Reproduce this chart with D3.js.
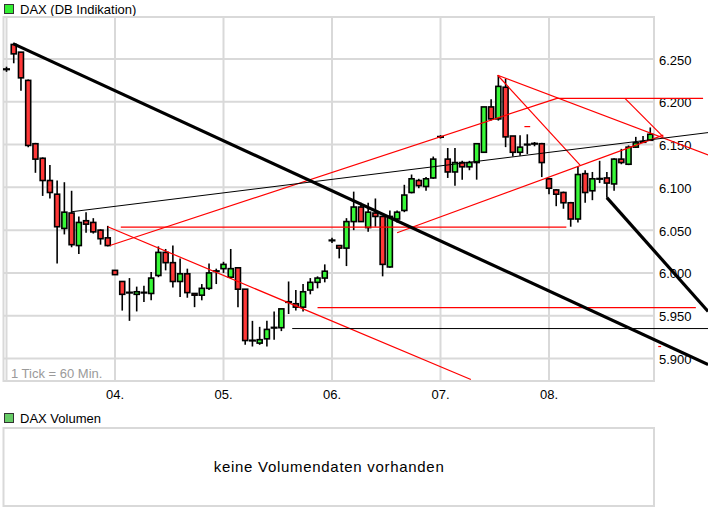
<!DOCTYPE html>
<html><head><meta charset="utf-8">
<script src="https://cdn.jsdelivr.net/npm/d3@7"></script>
<style>
body{margin:0;background:#fff;}
svg{display:block;font-family:"Liberation Sans",Arial,sans-serif;}
</style>
</head><body>
<svg id="c" width="708" height="517"></svg>
<script>
// ---- data ----
const dayLabels = ["04.", "05.", "06.", "07.", "08."];
const dayStartIdx = [15, 30, 45, 60, 75];
const yTicks = [5900, 5950, 6000, 6050, 6100, 6150, 6200, 6250];
const title = "DAX (DB Indikation)";
const volumeTitle = "DAX Volumen";
const volumeNote = "keine Volumendaten vorhanden";
const tickNote = "1 Tick = 60 Min.";

const open = [6238,6267,6258,6225,6151,6134,6108,6092,6052,6070,6032,6061,6059,6050,6041,
  6003,5990,5977,5975,5977,5976,5997,6024,6012,5990,5999,5976,5974,5982,6002,
  6005,5995,6006,5981,5921,5918,5923,5936,5936,5966,5964,5960,5980,5989,5994,
  6038,6032,6029,6060,6077,6053,6070,6066,6007,6063,6073,6094,6108,6101,6111,
  6159,6133,6118,6129,6124,6129,6141,6194,6180,6217,6160,6141,6150,6151,6151,
  6110,6097,6094,6082,6063,6116,6096,6110,6111,6104,6133,6127,6147,6153,6155];
const high = [6241,6268,6258,6226,6152,6135,6126,6108,6106,6096,6066,6071,6064,6051,6055,
  6003,5990,5994,5984,5985,6001,6031,6028,6032,6017,6005,5976,5987,6011,6005,
  6013,6028,6006,5981,5944,5937,5944,5955,5958,5990,5980,5987,5994,5996,6010,
  6041,6032,6064,6095,6082,6082,6087,6066,6073,6073,6103,6115,6110,6112,6136,
  6161,6146,6146,6131,6131,6151,6194,6203,6231,6227,6160,6161,6162,6153,6152,
  6111,6098,6095,6083,6124,6120,6118,6131,6118,6134,6145,6149,6159,6160,6170];
const low = [6235,6245,6213,6147,6117,6090,6087,6011,6045,6030,6022,6047,6046,6033,6031,
  5998,5956,5944,5955,5966,5968,5995,6003,5983,5972,5971,5960,5968,5980,5987,
  6000,5993,5960,5916,5914,5916,5914,5922,5932,5952,5956,5955,5975,5982,5989,
  6035,6017,6008,6050,6060,6048,6054,5996,6006,6059,6071,6093,6099,6096,6110,
  6157,6111,6102,6109,6120,6109,6141,6178,6178,6147,6136,6137,6139,6148,6112,
  6092,6078,6075,6054,6059,6082,6085,6105,6088,6096,6127,6126,6146,6152,6155];
const close = [6238,6256,6228,6149,6133,6108,6094,6054,6071,6033,6059,6057,6048,6040,6032,
  5998,5975,5977,5978,5977,5994,6024,6012,5990,5999,5977,5974,5982,6000,6002,
  6010,6005,5981,5921,5921,5922,5934,5936,5958,5966,5960,5978,5989,5994,6002,
  6038,6029,6060,6077,6060,6071,6066,6010,6066,6071,6091,6110,6102,6110,6133,
  6159,6118,6129,6124,6129,6151,6194,6180,6218,6159,6141,6147,6150,6151,6129,
  6099,6092,6082,6063,6115,6094,6110,6110,6105,6133,6129,6147,6152,6153,6162];

// drawn annotation lines: [startIndex, startValue, endIndex, endValue]
const thickBlackLines = [[0.9, 6268, 97, 5893], [83, 6088, 97, 5955]];
const thinBlackLines = [[9, 6071.5, 97, 6164], [39.5, 5935, 97, 5935]];
const redLines = [
  [43, 5959.5, 95.3, 5959.5],
  [15.8, 6053.5, 77.4, 6053.5],
  [76.1, 6204, 96.3, 6204],
  [14.3, 6032, 76.1, 6204],
  [14.0, 6054, 64.2, 5875.5],
  [54, 6047, 90.8, 6161],
  [67.9, 6231, 97, 6138],
  [67.9, 6231, 79.3, 6126],
  [85.5, 6204, 90.8, 6159],
  [71.6, 6171, 72.4, 6171],
  [90.1, 5914, 90.5, 5914]
];

// ---- layout ----
const svg = d3.select("#c");
const frame = {l: 3.5, r: 654, t: 17, b: 381};
const x = d3.scaleLinear().domain([0, 90]).range([6.5, 6.5 + 90 * 7.2333]);
const y = d3.scaleLinear().domain([5900, 6250]).range([358.5, 59]);
const grid = "#d9d9d9";
const RED = "#ff3838", GREEN = "#38f838";
const de = d3.formatLocale({decimal: ",", thousands: ".", grouping: [3], currency: ["", "€"]});
const fmt = de.format(",d");

// legend
svg.append("rect").attr("x", 4.5).attr("y", 4.5).attr("width", 9).attr("height", 9)
  .attr("fill", "#33ee33").attr("stroke", "#333").attr("stroke-width", 1);
svg.append("text").attr("x", 20).attr("y", 13.5).attr("font-size", 13).attr("fill", "#000").text(title);

// gridlines
const g = svg.append("g");
g.selectAll("line.h").data(yTicks).join("line")
  .attr("x1", frame.l).attr("x2", frame.r).attr("y1", d => y(d)).attr("y2", d => y(d))
  .attr("stroke", grid).attr("stroke-width", 2);
g.selectAll("line.v").data([0].concat(dayStartIdx)).join("line")
  .attr("x1", d => x(d)).attr("x2", d => x(d)).attr("y1", frame.t).attr("y2", frame.b)
  .attr("stroke", grid).attr("stroke-width", 2);
g.append("rect").attr("x", frame.l).attr("y", frame.t).attr("width", frame.r - frame.l).attr("height", frame.b - frame.t)
  .attr("fill", "none").attr("stroke", grid).attr("stroke-width", 2);

// tick note
svg.append("text").attr("x", 11).attr("y", 378).attr("font-size", 13).attr("fill", "#9a9a9a").text(tickNote);

// y labels
svg.selectAll("text.yl").data(yTicks).join("text")
  .attr("x", 659).attr("y", d => y(d) + 5.5).attr("font-size", 13).attr("fill", "#000")
  .text(d => fmt(d));
// x labels
svg.selectAll("text.xl").data(dayLabels).join("text")
  .attr("x", (d, i) => x(dayStartIdx[i])).attr("y", 398.5).attr("text-anchor", "middle")
  .attr("font-size", 13).attr("fill", "#000").text(d => d);

// candles
const idx = d3.range(open.length);
const cg = svg.append("g");
cg.selectAll("line.w").data(idx).join("line")
  .attr("x1", i => x(i)).attr("x2", i => x(i))
  .attr("y1", i => y(high[i])).attr("y2", i => y(low[i]))
  .attr("stroke", "#000").attr("stroke-width", 1.6);
const doji = idx.filter(i => Math.abs(open[i] - close[i]) < 1);
const bodies = idx.filter(i => Math.abs(open[i] - close[i]) >= 1);
cg.selectAll("rect.b").data(bodies).join("rect")
  .attr("x", i => x(i) - 2.5).attr("width", 5)
  .attr("y", i => y(Math.max(open[i], close[i])))
  .attr("height", i => Math.abs(y(open[i]) - y(close[i])))
  .attr("fill", i => close[i] > open[i] ? GREEN : RED)
  .attr("stroke", "#000").attr("stroke-width", 1.6);
cg.selectAll("line.d").data(doji).join("line")
  .attr("x1", i => x(i) - 3.5).attr("x2", i => x(i) + 3.5)
  .attr("y1", i => y(open[i])).attr("y2", i => y(open[i]))
  .attr("stroke", "#000").attr("stroke-width", 2.2);

// annotation lines
const ag = svg.append("g");
function drawLines(data, color, w) {
  ag.selectAll(null).data(data).join("line")
    .attr("x1", d => x(d[0])).attr("y1", d => y(d[1]))
    .attr("x2", d => x(d[2])).attr("y2", d => y(d[3]))
    .attr("stroke", color).attr("stroke-width", w);
}
drawLines(redLines, "#ff0000", 1.2);
drawLines(thinBlackLines, "#000", 1);
drawLines(thickBlackLines, "#000", 3.2);

// volume panel
svg.append("rect").attr("x", 4.5).attr("y", 413.5).attr("width", 9).attr("height", 9)
  .attr("fill", "#66cc66").attr("stroke", "#333").attr("stroke-width", 1);
svg.append("text").attr("x", 20).attr("y", 422.5).attr("font-size", 13).attr("fill", "#000").text(volumeTitle);
svg.append("rect").attr("x", frame.l).attr("y", 428).attr("width", frame.r - frame.l).attr("height", 78)
  .attr("fill", "none").attr("stroke", grid).attr("stroke-width", 2);
svg.append("text").attr("x", (frame.l + frame.r) / 2).attr("y", 471.5).attr("text-anchor", "middle")
  .attr("font-size", 15).attr("textLength", 230).attr("lengthAdjust", "spacing")
  .attr("fill", "#000").text(volumeNote);
</script>
</body></html>
